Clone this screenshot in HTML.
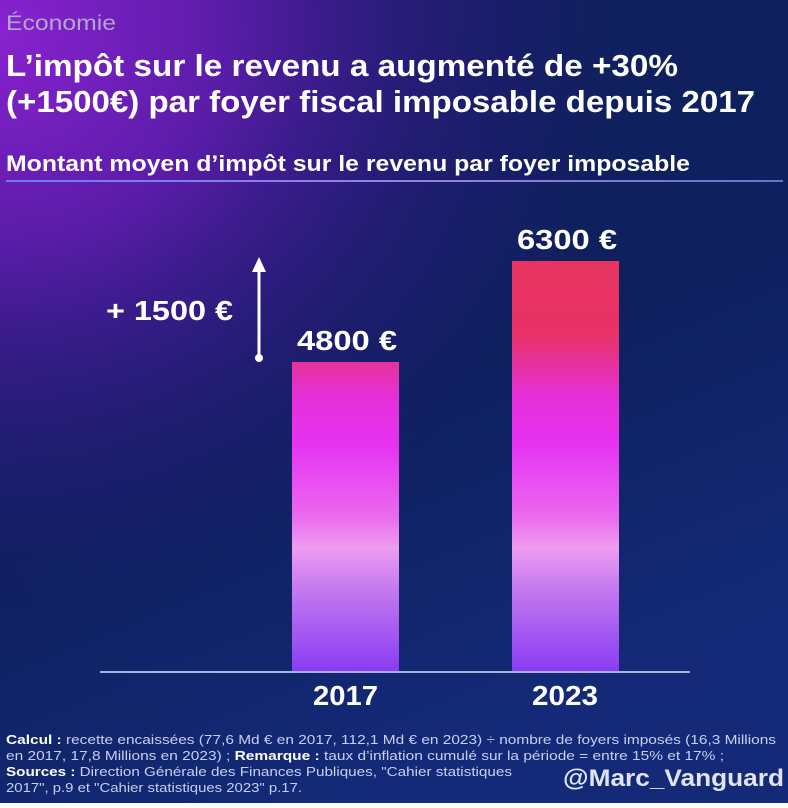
<!DOCTYPE html>
<html><head><meta charset="utf-8"><style>
html,body{margin:0;padding:0;}
body{width:788px;height:803px;overflow:hidden;}
</style></head><body>
<svg width="788" height="803" xmlns="http://www.w3.org/2000/svg" font-family="Liberation Sans, sans-serif">
<defs>
<linearGradient id="bg" x1="0" y1="0" x2="0.4" y2="1">
<stop offset="0" stop-color="#12205e"/>
<stop offset="0.6" stop-color="#0e205e"/>
<stop offset="1" stop-color="#142a78"/>
</linearGradient>
<radialGradient id="glow" gradientUnits="userSpaceOnUse" cx="0" cy="30" r="620" gradientTransform="translate(0,30) scale(1,0.95) translate(0,-30)">
<stop offset="0" stop-color="#8a22d0"/>
<stop offset="0.35" stop-color="#6a1cb8" stop-opacity="0.85"/>
<stop offset="0.7" stop-color="#3a1890" stop-opacity="0.4"/>
<stop offset="1" stop-color="#2a1880" stop-opacity="0"/>
</radialGradient>
<linearGradient id="bar" gradientUnits="userSpaceOnUse" x1="0" y1="261" x2="0" y2="671">
<stop offset="0" stop-color="#e8345f"/>
<stop offset="0.18" stop-color="#e83268"/>
<stop offset="0.33" stop-color="#e530d8"/>
<stop offset="0.45" stop-color="#e633f2"/>
<stop offset="0.62" stop-color="#ea68ee"/>
<stop offset="0.7" stop-color="#ee9cf0"/>
<stop offset="0.8" stop-color="#c47af0"/>
<stop offset="1" stop-color="#8a3cf2"/>
</linearGradient>
<linearGradient id="ln" x1="0" y1="0" x2="1" y2="0">
<stop offset="0" stop-color="#6a7af0"/>
<stop offset="0.5" stop-color="#9a80e8"/>
<stop offset="1" stop-color="#6a70c8"/>
</linearGradient>
</defs>
<rect width="788" height="803" fill="url(#bg)"/>
<rect width="788" height="803" fill="url(#glow)"/>
<text x="6" y="30" font-size="21" fill="#b0a8d0" textLength="110" lengthAdjust="spacingAndGlyphs">Économie</text>
<text x="6" y="76" font-size="31" font-weight="bold" fill="#fff" textLength="672" lengthAdjust="spacingAndGlyphs">L’impôt sur le revenu a augmenté de +30%</text>
<text x="6" y="112" font-size="31" font-weight="bold" fill="#fff" textLength="749" lengthAdjust="spacingAndGlyphs">(+1500€) par foyer fiscal imposable depuis 2017</text>
<text x="6" y="171" font-size="22" font-weight="bold" fill="#fff" textLength="684" lengthAdjust="spacingAndGlyphs">Montant moyen d’impôt sur le revenu par foyer imposable</text>
<rect x="6" y="180" width="777" height="2" fill="url(#ln)"/>
<rect x="292" y="362" width="107" height="309" fill="url(#bar)"/>
<rect x="512" y="261" width="107" height="410" fill="url(#bar)"/>
<line x1="100" y1="672" x2="690" y2="672" stroke="#a8b0e0" stroke-width="2"/>
<text x="297" y="350" font-size="28" font-weight="bold" fill="#fff" textLength="100" lengthAdjust="spacingAndGlyphs">4800 €</text>
<text x="517" y="249" font-size="28" font-weight="bold" fill="#fff" textLength="100" lengthAdjust="spacingAndGlyphs">6300 €</text>
<text x="313" y="705" font-size="28" font-weight="bold" fill="#fff" textLength="65" lengthAdjust="spacingAndGlyphs">2017</text>
<text x="532" y="705" font-size="28" font-weight="bold" fill="#fff" textLength="66" lengthAdjust="spacingAndGlyphs">2023</text>
<text x="106" y="320" font-size="28" font-weight="bold" fill="#fff" textLength="127" lengthAdjust="spacingAndGlyphs">+ 1500 €</text>
<line x1="259" y1="270" x2="259" y2="358" stroke="#fff" stroke-width="3"/>
<polygon points="259,257 252,272 266,272" fill="#fff"/>
<circle cx="259" cy="358" r="4" fill="#fff"/>
<g font-size="13" fill="#c8d0f0">
<text x="6" y="744" textLength="770" lengthAdjust="spacingAndGlyphs"><tspan font-weight="bold" fill="#fff">Calcul :</tspan> recette encaissées (77,6 Md € en 2017, 112,1 Md € en 2023) ÷ nombre de foyers imposés (16,3 Millions</text>
<text x="6" y="760" textLength="718" lengthAdjust="spacingAndGlyphs">en 2017, 17,8 Millions en 2023) ; <tspan font-weight="bold" fill="#fff">Remarque :</tspan> taux d’inflation cumulé sur la période = entre 15% et 17% ;</text>
<text x="6" y="776" textLength="506" lengthAdjust="spacingAndGlyphs"><tspan font-weight="bold" fill="#fff">Sources :</tspan> Direction Générale des Finances Publiques, "Cahier statistiques</text>
<text x="6" y="792" textLength="296" lengthAdjust="spacingAndGlyphs">2017", p.9 et "Cahier statistiques 2023" p.17.</text>
</g>
<text x="563" y="786" font-size="24" font-weight="bold" fill="#e0e4f4" textLength="221" lengthAdjust="spacingAndGlyphs">@Marc_Vanguard</text>
</svg>
</body></html>
